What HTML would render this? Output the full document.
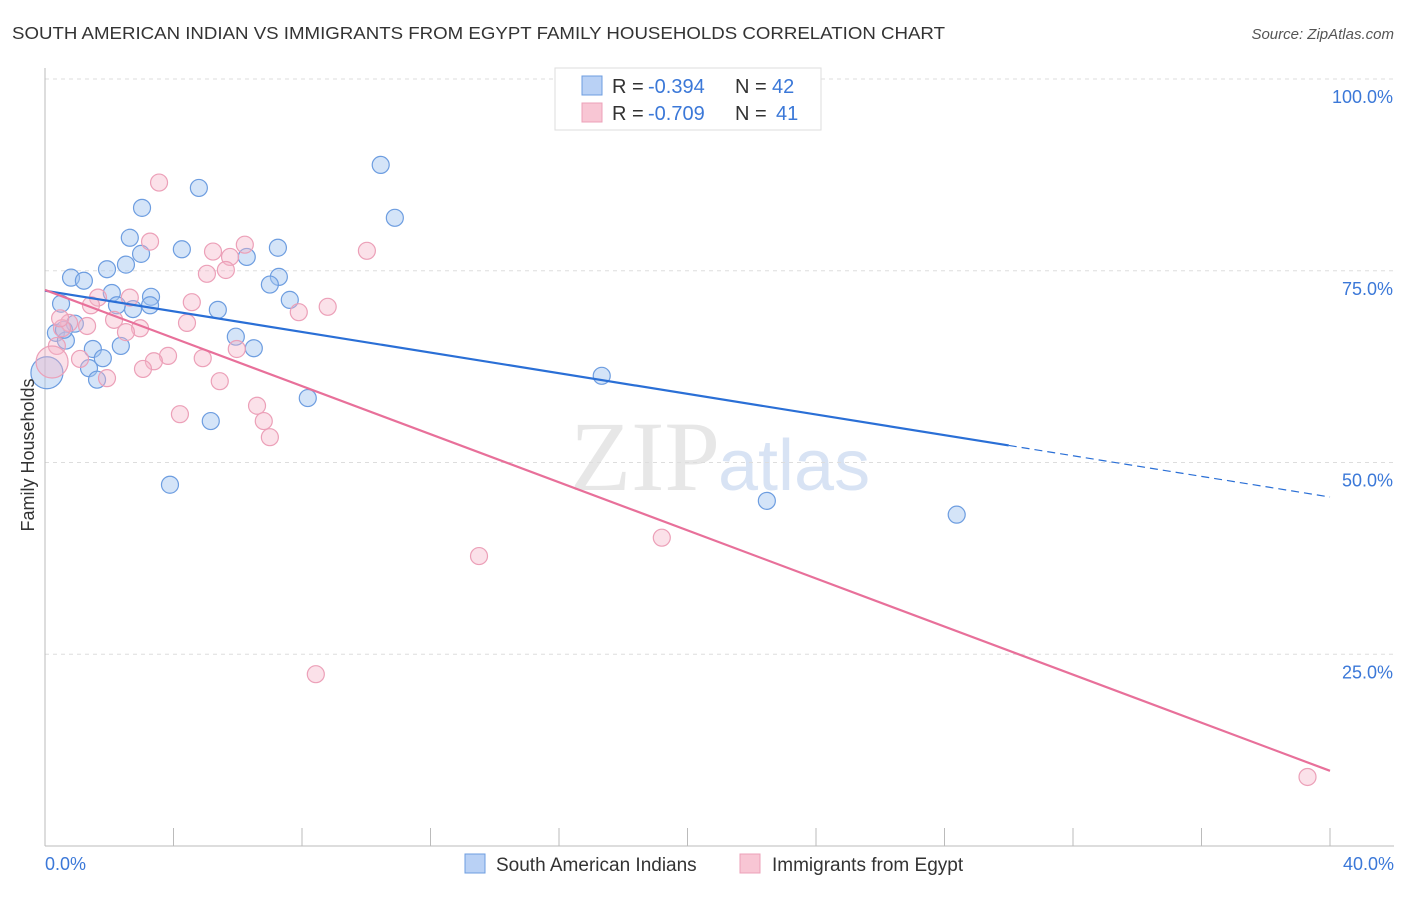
<!DOCTYPE html>
<html><head><meta charset="utf-8"><style>
body{margin:0;background:#fff;font-family:"Liberation Sans",sans-serif;}
</style></head><body>
<svg id="c" width="1406" height="892" xmlns="http://www.w3.org/2000/svg">
<text x="12" y="39" font-size="17.5" fill="#333" textLength="933" lengthAdjust="spacingAndGlyphs">SOUTH AMERICAN INDIAN VS IMMIGRANTS FROM EGYPT FAMILY HOUSEHOLDS CORRELATION CHART</text>
<text x="1394" y="39" font-size="15" fill="#555" font-style="italic" text-anchor="end">Source: ZipAtlas.com</text>
<text x="720" y="490" font-size="100" fill="#ddd" text-anchor="end" font-family="Liberation Serif,serif" opacity="0.7">ZIP</text>
<text x="718" y="490" font-size="72" fill="#c8d8f0" opacity="0.7">atlas</text>
<g id="grid"></g><g id="axes"></g><g id="pts"></g><g id="lines"></g>
<text x="34" y="455" font-size="18" fill="#333" text-anchor="middle" transform="rotate(-90 34 455)">Family Households</text>
<g>
<rect x="555" y="68" width="266" height="62" fill="#fff" stroke="#ddd"/>
<rect x="582" y="76" width="20" height="19" fill="#b9d1f5" stroke="#6d9de0"/>
<rect x="582" y="103" width="20" height="19" fill="#f8c6d4" stroke="#eca0b8"/>
<text y="93" font-size="20" fill="#333"><tspan x="612">R =</tspan><tspan x="648" fill="#3b78d8">-0.394</tspan><tspan x="735">N =</tspan><tspan x="772" fill="#3b78d8">42</tspan></text>
<text y="120" font-size="20" fill="#333"><tspan x="612">R =</tspan><tspan x="648" fill="#3b78d8">-0.709</tspan><tspan x="735">N =</tspan><tspan x="776" fill="#3b78d8">41</tspan></text>
</g>
<g>
<rect x="465" y="854" width="20" height="19" fill="#b9d1f5" stroke="#6d9de0"/>
<text x="496" y="871" font-size="19" fill="#333">South American Indians</text>
<rect x="740" y="854" width="20" height="19" fill="#f8c6d4" stroke="#eca0b8"/>
<text x="772" y="871" font-size="19" fill="#333">Immigrants from Egypt</text>
</g>
</svg>
<script>
const blueX=[10.45,4.79,3.02,10.89,2.64,4.26,7.25,2.99,6.28,2.52,1.93,0.81,1.21,7.28,7.00,2.08,3.30,7.62,0.50,2.24,3.27,2.74,5.38,0.93,0.34,5.94,0.65,2.36,1.49,6.50,1.80,1.37,1.62,17.33,8.18,5.16,3.89,22.47,28.38,0.59,0.06];
const blueY=[88.8,85.8,83.2,81.9,79.3,77.8,78.0,77.2,76.8,75.8,75.2,74.1,73.7,74.2,73.2,72.1,71.6,71.2,70.7,70.5,70.5,70.0,69.9,68.1,66.9,66.4,65.9,65.2,64.8,64.9,63.6,62.3,60.8,61.3,58.4,55.4,47.1,45.0,43.2,67.3,61.7];
const pinkX=[3.55,3.27,10.02,5.23,6.22,5.76,5.04,5.63,1.65,1.43,2.64,4.57,8.80,7.90,2.15,4.42,0.75,1.31,2.96,2.52,0.53,5.97,1.09,3.83,3.39,4.91,3.05,1.93,5.44,0.37,6.60,4.20,6.81,7.00,13.51,19.20,8.43,39.3,0.47,0.22];
const pinkY=[86.5,78.8,77.6,77.5,78.4,76.8,74.6,75.1,71.5,70.5,71.5,70.9,70.3,69.6,68.6,68.2,68.2,67.8,67.5,67.0,67.5,64.8,63.5,63.9,63.2,63.6,62.2,61.0,60.6,65.2,57.4,56.3,55.4,53.3,37.8,40.2,22.4,9.0,68.8,63.1];
const yTicks=[25,50,75,100];
const xTickLabels=["0.0%","40.0%"];
const blueTrend=[72.4,45.5];const blueSolidEnd=30.0;
const pinkTrend=[72.5,9.8];
const NS="http://www.w3.org/2000/svg";
const sx=v=>45+v/40*1285, sy=v=>846-v/100*767;
function mk(t,a,p){const e=document.createElementNS(NS,t);for(const k in a)e.setAttribute(k,a[k]);document.getElementById(p).appendChild(e);return e;}
yTicks.forEach(t=>{
 const l=mk('line',{x1:45,x2:1394,y1:sy(t),y2:sy(t),stroke:'#ddd','stroke-dasharray':'4,4'},'grid');
 
 
 const tx=mk('text',{x:1393,y:sy(t)+24,'font-size':18,fill:'#3b78d8','text-anchor':'end'},'axes');tx.textContent=t.toFixed(1)+'%';
 
 
});
const ax=mk('line',{x1:45,x2:45,y1:68,y2:846,stroke:'#bbb'},'axes');


const bx=mk('line',{x1:45,x2:1394,y1:846,y2:846,stroke:'#bbb'},'axes');


for(let i=0;i<=10;i++){const x=45+i*128.5;const t=mk('line',{x1:x,x2:x,y1:828,y2:846,stroke:'#bbb'},'axes');
 
 }
[[0,'start',45],[40,'end',1394]].forEach((d,i)=>{const t=mk('text',{x:d[2],y:870,'font-size':18,fill:'#3b78d8','text-anchor':d[1]},'axes');t.textContent=xTickLabels[i];
 
 });
function pts(X,Y,fill,stroke,name){X.forEach((x,i)=>{const big=i===X.length-1;
 const c=mk('circle',{cx:sx(x),cy:sy(Y[i]),r:big?16:8.5,fill:fill,stroke:stroke,'stroke-width':1.2},'pts');
 
 });}
pts(blueX,blueY,'rgba(160,195,240,0.45)','#6d9de0','point-south-american-indian');
pts(pinkX,pinkY,'rgba(245,180,200,0.4)','#eca0b8','point-egypt');
const bv=x=>blueTrend[0]+(blueTrend[1]-blueTrend[0])*x/40;
const l1=mk('line',{x1:sx(0),y1:sy(bv(0)),x2:sx(blueSolidEnd),y2:sy(bv(blueSolidEnd)),stroke:'#2a6fd6','stroke-width':2.2},'lines');


const l2=mk('line',{x1:sx(blueSolidEnd),y1:sy(bv(blueSolidEnd)),x2:sx(40),y2:sy(bv(40)),stroke:'#2a6fd6','stroke-width':1.2,'stroke-dasharray':'8,5'},'lines');


const l3=mk('line',{x1:sx(0),y1:sy(pinkTrend[0]),x2:sx(40),y2:sy(pinkTrend[1]),stroke:'#e8709a','stroke-width':2.2},'lines');


</script>
</body></html>
